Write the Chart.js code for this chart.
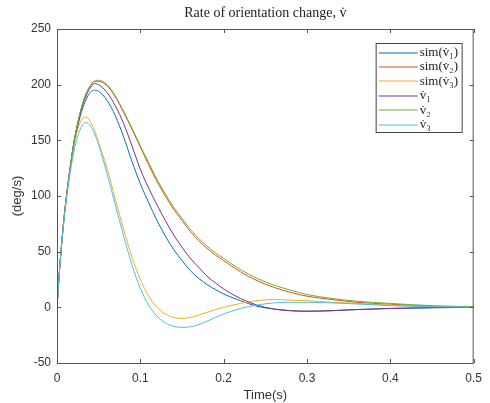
<!DOCTYPE html>
<html>
<head>
<meta charset="utf-8">
<script src="https://cdn.jsdelivr.net/npm/chart.js@4.4.1/dist/chart.umd.min.js"></script>
<style>
  html, body { margin: 0; padding: 0; background: #fff; }
</style>
</head>
<body>
<canvas id="rateChart" width="490" height="403"></canvas>
<script>
// sample times (s) and values (deg/s)
const times = [0, 0.0025, 0.005, 0.0075, 0.01, 0.015, 0.02, 0.025, 0.03, 0.035, 0.04, 0.045, 0.05,
  0.06, 0.07, 0.08, 0.09, 0.10, 0.11, 0.12, 0.13, 0.14, 0.15, 0.16, 0.17, 0.18, 0.19, 0.20,
  0.22, 0.24, 0.26, 0.28, 0.30, 0.33, 0.36, 0.40, 0.45, 0.50];

const simV1 = [0, 28, 52, 73, 91, 120, 145, 163, 177, 187, 193, 195, 194,
  186, 172, 153, 131, 111, 94, 78, 64, 52, 42, 33, 26, 20.5, 16, 12,
  6, 1, -1.5, -3, -3.5, -3, -2, -1, -0.4, 0];
const simV2 = [0, 28, 52, 73, 91, 121, 147, 166, 181, 192, 199, 203, 203,
  199, 189, 175, 160, 144, 128, 113, 100, 88, 78, 68, 60, 53, 47, 42,
  32, 24, 18, 13.5, 10, 7, 4.5, 2.8, 1, 0.3];
const simV3 = [0, 28, 52, 73, 91, 120, 144, 160, 169, 171, 167, 159, 148,
  125, 97, 70, 45, 25, 10, 0, -6, -9, -10, -9, -7, -4.5, -2, 0,
  3.5, 6, 7, 6.5, 6, 4.5, 3.5, 2, 0.8, 0.2];
const v1 = [0, 28, 52, 73, 91, 121, 147, 165, 180, 190, 197, 201, 200,
  193, 181, 165, 145, 124, 107, 92, 78, 65, 54, 44, 36, 28, 22, 16.5,
  8, 2, -1.5, -3, -3.5, -3, -2, -1, -0.3, 0];
const v2 = [0, 28, 52, 73, 91, 121, 147, 166, 181, 192, 199, 203, 204,
  200, 190, 176, 161, 145, 130, 115, 102, 90, 80, 70, 62, 55, 49, 44,
  34, 26, 20, 15.5, 11.5, 8, 5.5, 3.5, 1.5, 0.5];
const v3 = [0, 28, 52, 72, 89, 117, 139, 154, 163, 166, 163, 156, 146,
  120, 92, 64, 38, 17, 2, -8, -14, -17, -18, -17.5, -15.5, -12.5, -9, -6,
  -1, 2, 4, 4.5, 4.5, 4, 3, 1.5, 0.5, 0.1];

const seriesLabels = ['sim(v\u0307\u2081)', 'sim(v\u0307\u2082)', 'sim(v\u0307\u2083)', 'v\u0307\u2081', 'v\u0307\u2082', 'v\u0307\u2083'];
const seriesValues = [simV1, simV2, simV3, v1, v2, v3];
const seriesColors = ['#0072BD', '#D95319', '#EDB120', '#7E2F8E', '#77AC30', '#4DBEEE'];

const xTicks = [0, 0.1, 0.2, 0.3, 0.4, 0.5];
const yTicks = [-50, 0, 50, 100, 150, 200, 250];

const titleText = 'Rate of orientation change, v\u0307';
const axisColor = '#333';
const tickFont = { family: 'Liberation Sans, Arial, sans-serif', size: 12 };

const datasets = seriesValues.map(function(vals, i) {
    return {
        label: seriesLabels[i],
        data: vals.map(function(v, k) { return { x: times[k], y: v }; }),
        borderColor: seriesColors[i],
        borderWidth: 1,
        pointRadius: 0,
        cubicInterpolationMode: 'monotone',
        fill: false,
        order: seriesValues.length - i
    };
});

// box, inward ticks, title and the legend box (MATLAB look)
const matlabFrame = {
    id: 'matlabFrame',
    afterDraw(chart) {
        const { ctx, chartArea: a, scales } = chart;
        const sx = scales.x, sy = scales.y;
        const tick = 4;
        ctx.save();
        ctx.strokeStyle = '#555';
        ctx.lineWidth = 1;
        ctx.strokeRect(a.left + 0.5, a.top + 0.5, a.right - a.left - 1, a.bottom - a.top);
        ctx.beginPath();
        xTicks.forEach(function(v) {
            const px = Math.round(sx.getPixelForValue(v)) + 0.5;
            ctx.moveTo(px, a.bottom); ctx.lineTo(px, a.bottom - tick);
            ctx.moveTo(px, a.top); ctx.lineTo(px, a.top + tick);
        });
        yTicks.forEach(function(v) {
            const py = Math.round(sy.getPixelForValue(v)) + 0.5;
            ctx.moveTo(a.left, py); ctx.lineTo(a.left + tick, py);
            ctx.moveTo(a.right, py); ctx.lineTo(a.right - tick, py);
        });
        ctx.stroke();

        // title
        ctx.fillStyle = '#222';
        ctx.font = '14px "Liberation Serif", "DejaVu Serif", serif';
        ctx.textAlign = 'center';
        ctx.textBaseline = 'middle';
        ctx.fillText(titleText, (a.left + a.right) / 2, 13);

        // legend
        const bw = 86, bh = 89;
        const bx = a.right - 12 - bw, by = a.top + 14;
        ctx.fillStyle = '#fff';
        ctx.fillRect(bx, by, bw, bh);
        ctx.strokeStyle = '#444';
        ctx.strokeRect(bx + 0.5, by + 0.5, bw, bh);
        ctx.font = '13px "Liberation Serif", "DejaVu Serif", serif';
        ctx.textAlign = 'left';
        seriesLabels.forEach(function(label, i) {
            const cy = by + 9.5 + i * 14.4;
            ctx.strokeStyle = seriesColors[i];
            ctx.lineWidth = 1.2;
            ctx.beginPath();
            ctx.moveTo(bx + 3, Math.round(cy));
            ctx.lineTo(bx + 42, Math.round(cy));
            ctx.stroke();
            ctx.fillStyle = '#222';
            ctx.fillText(label, bx + 44, cy);
        });
        ctx.restore();
    }
};

new Chart(document.getElementById('rateChart'), {
    type: 'line',
    data: { datasets: datasets },
    plugins: [matlabFrame],
    options: {
        responsive: false,
        devicePixelRatio: 1,
        animation: false,
        layout: { padding: { top: 29, right: 11, left: 0, bottom: 0 } },
        plugins: {
            legend: { display: false },
            tooltip: { enabled: false }
        },
        scales: {
            x: {
                type: 'linear',
                min: 0,
                max: 0.5,
                afterBuildTicks: function(s) { s.ticks = xTicks.map(function(v) { return { value: v }; }); },
                afterFit: function(s) { s.height = 40; },
                grid: { display: false, drawTicks: false },
                border: { display: false },
                ticks: {
                    padding: 8, color: axisColor, font: tickFont,
                    maxRotation: 0, autoSkip: false,
                    callback: function(v) { return String(v); }
                },
                title: {
                    display: true, text: 'Time(s)', color: axisColor,
                    font: { family: tickFont.family, size: 13 },
                    padding: { top: 0, bottom: 0 }
                }
            },
            y: {
                min: -50,
                max: 250,
                afterBuildTicks: function(s) { s.ticks = yTicks.map(function(v) { return { value: v }; }); },
                afterFit: function(s) { s.width = 57; },
                grid: { display: false, drawTicks: false },
                border: { display: false },
                ticks: {
                    padding: 6, color: axisColor, font: tickFont,
                    autoSkip: false,
                    callback: function(v) { return String(v); }
                },
                title: {
                    display: true, text: '(deg/s)', color: axisColor,
                    font: { family: tickFont.family, size: 13 },
                    padding: { top: 10, bottom: 0 }
                }
            }
        }
    }
});
</script>
</body>
</html>
